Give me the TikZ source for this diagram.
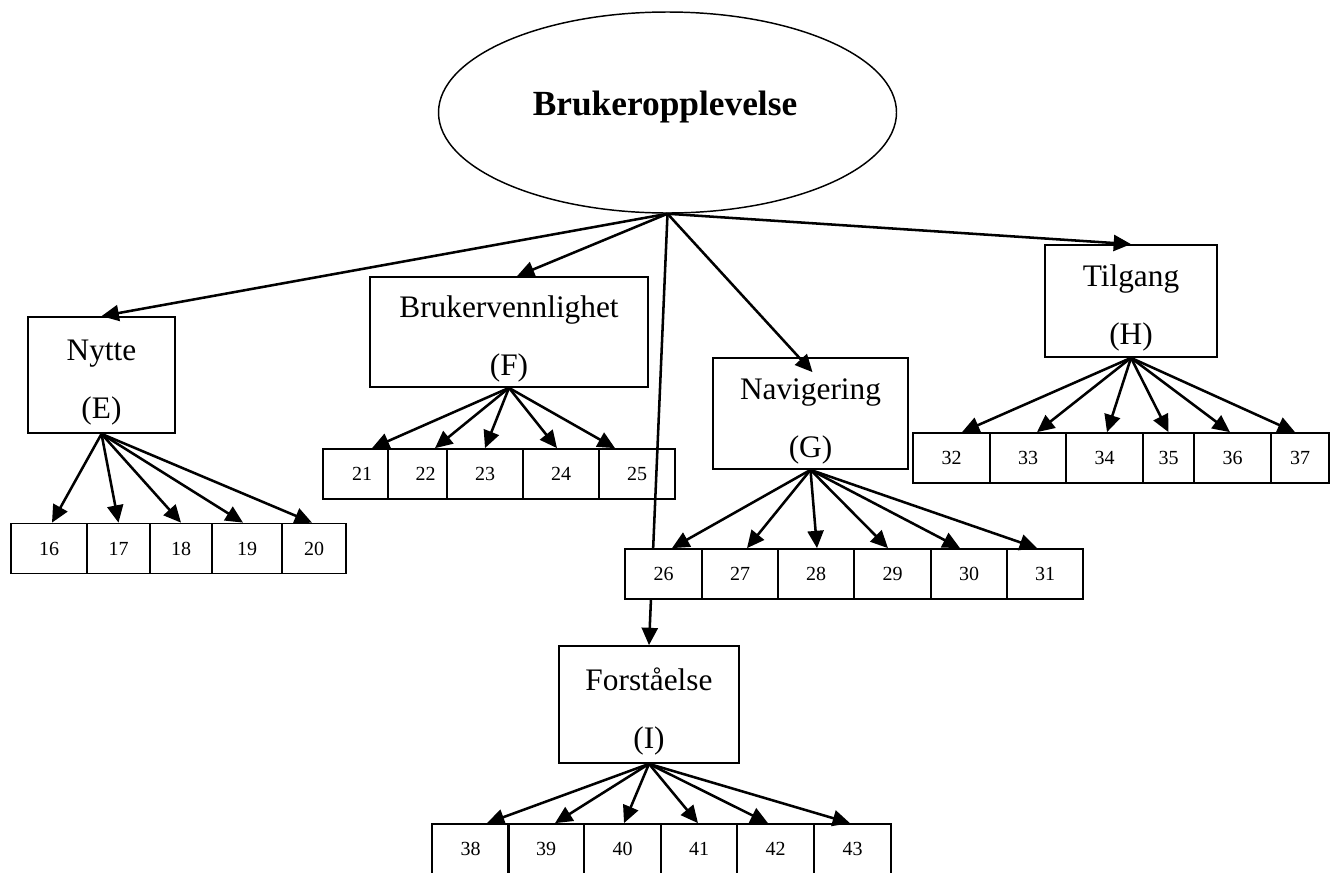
\documentclass[tikz,border=0pt]{standalone}
\usepackage{fontspec}
\setmainfont{Liberation Serif}
\usetikzlibrary{arrows.meta,shapes.geometric}
\newdimen\pxu \pxu=0.75pt
% extra room above the first line of a box label
\newcommand\topgap{\rule{0pt}{27pt}}

\begin{document}
\begin{tikzpicture}[x=0.75pt,y=-0.75pt,
  box/.style={draw, line width=1.3pt, rectangle, inner sep=0pt, align=center,
    font=\fontsize{23.5}{43.5}\selectfont},
  cell/.style={draw, line width=1.3pt, rectangle, inner sep=0pt,
    minimum height=50\pxu, font=\fontsize{15}{18}\selectfont},
  link/.style={line width=1.9pt, -{Triangle[length=13pt,width=12pt]}},
]
\useasboundingbox (0,0) rectangle (1330,872);

% top concept
\node[ellipse, draw, line width=1.1pt, minimum width=458\pxu, minimum height=201\pxu] (root) at (667.5,112.5) {};
\node[font=\bfseries\fontsize{26.5}{30}\selectfont, inner sep=0pt] (title) at (665,107) {Brukeropplevelse};

% understanding branch, its long link passes behind the G row
\node[box, minimum width=180\pxu, minimum height=117\pxu] (I) at (649,704.5) {\topgap Forståelse\\(I)};
\draw[link] (root.south) -- (I.north);

% second level
\node[box, minimum width=147\pxu, minimum height=116\pxu] (E) at (101.5,375) {\topgap Nytte\\(E)};
\node[box, minimum width=278\pxu, minimum height=110\pxu] (F) at (509,332) {\topgap Brukervennlighet\\(F)};
\node[box, minimum width=195\pxu, minimum height=111\pxu] (G) at (810.5,413.5) {\topgap Navigering\\(G)};
\node[box, minimum width=172\pxu, minimum height=112\pxu] (H) at (1131,301) {\topgap Tilgang\\(H)};

% E items
\node[cell, minimum width=76\pxu] (c16) at (49,548.5) {16};
\node[cell, minimum width=63\pxu] (c17) at (118.5,548.5) {17};
\node[cell, minimum width=62\pxu] (c18) at (181,548.5) {18};
\node[cell, minimum width=70\pxu] (c19) at (247,548.5) {19};
\node[cell, minimum width=64\pxu] (c20) at (314,548.5) {20};

% F items
\node[cell, minimum width=65\pxu] (c21) at (355.5,474) {\hspace*{13\pxu}21};
\node[cell, minimum width=75\pxu] (c22) at (425.5,474) {22};
\node[cell, minimum width=76\pxu, fill=white] (c23) at (485,474) {23};
\node[cell, minimum width=76\pxu] (c24) at (561,474) {24};
\node[cell, minimum width=76\pxu] (c25) at (637,474) {25};

% G items
\foreach \n/\x in {26/663.5,27/740,28/816,29/892.5,30/969,31/1045}
  \node[cell, minimum width=76.5\pxu, fill=white] (c\n) at (\x,574) {\n};

% H items
\node[cell, minimum width=77\pxu] (c32) at (951.5,458) {32};
\node[cell, minimum width=76\pxu] (c33) at (1028,458) {33};
\node[cell, minimum width=77\pxu] (c34) at (1104.5,458) {34};
\node[cell, minimum width=51\pxu] (c35) at (1168.5,458) {35};
\node[cell, minimum width=77\pxu] (c36) at (1232.5,458) {36};
\node[cell, minimum width=58\pxu] (c37) at (1300,458) {37};

% I items
\foreach \n/\x in {38/470.5,39/546,40/622.5,41/699,42/775.5,43/852.5}
  \node[cell, minimum width=76.5\pxu] (c\n) at (\x,849) {\n};

% links from the top concept
\draw[link] (root.south) -- (E.north);
\draw[link] (root.south) -- ([xshift=8\pxu]F.north);
\draw[link] (root.south) -- ([xshift=2\pxu,yshift=-15\pxu]G.north);
\draw[link] (root.south) -- (H.north);

% links to items
\foreach \n/\d in {16/3,17/0,18/0,19/-4,20/-2}
  \draw[link] (E.south) -- ([xshift=\d\pxu]c\n.north);
\foreach \n/\d in {21/16.5,22/9.5,23/0,24/-4,25/-22}
  \draw[link] (F.south) -- ([xshift=\d\pxu]c\n.north);
\foreach \n/\d in {26/8.5,27/7,28/1,29/-4.5,30/-9,31/-8}
  \draw[link] (G.south) -- ([xshift=\d\pxu]c\n.north);
\foreach \n/\d in {32/10.5,33/9,34/2.5,35/0,36/-2.5,37/-5}
  \draw[link] (H.south) -- ([xshift=\d\pxu]c\n.north);
\foreach \n/\d in {38/16.5,39/9,40/1.5,41/-1,42/-7.5,43/-2.5}
  \draw[link] (I.south) -- ([xshift=\d\pxu]c\n.north);
\end{tikzpicture}
\end{document}
